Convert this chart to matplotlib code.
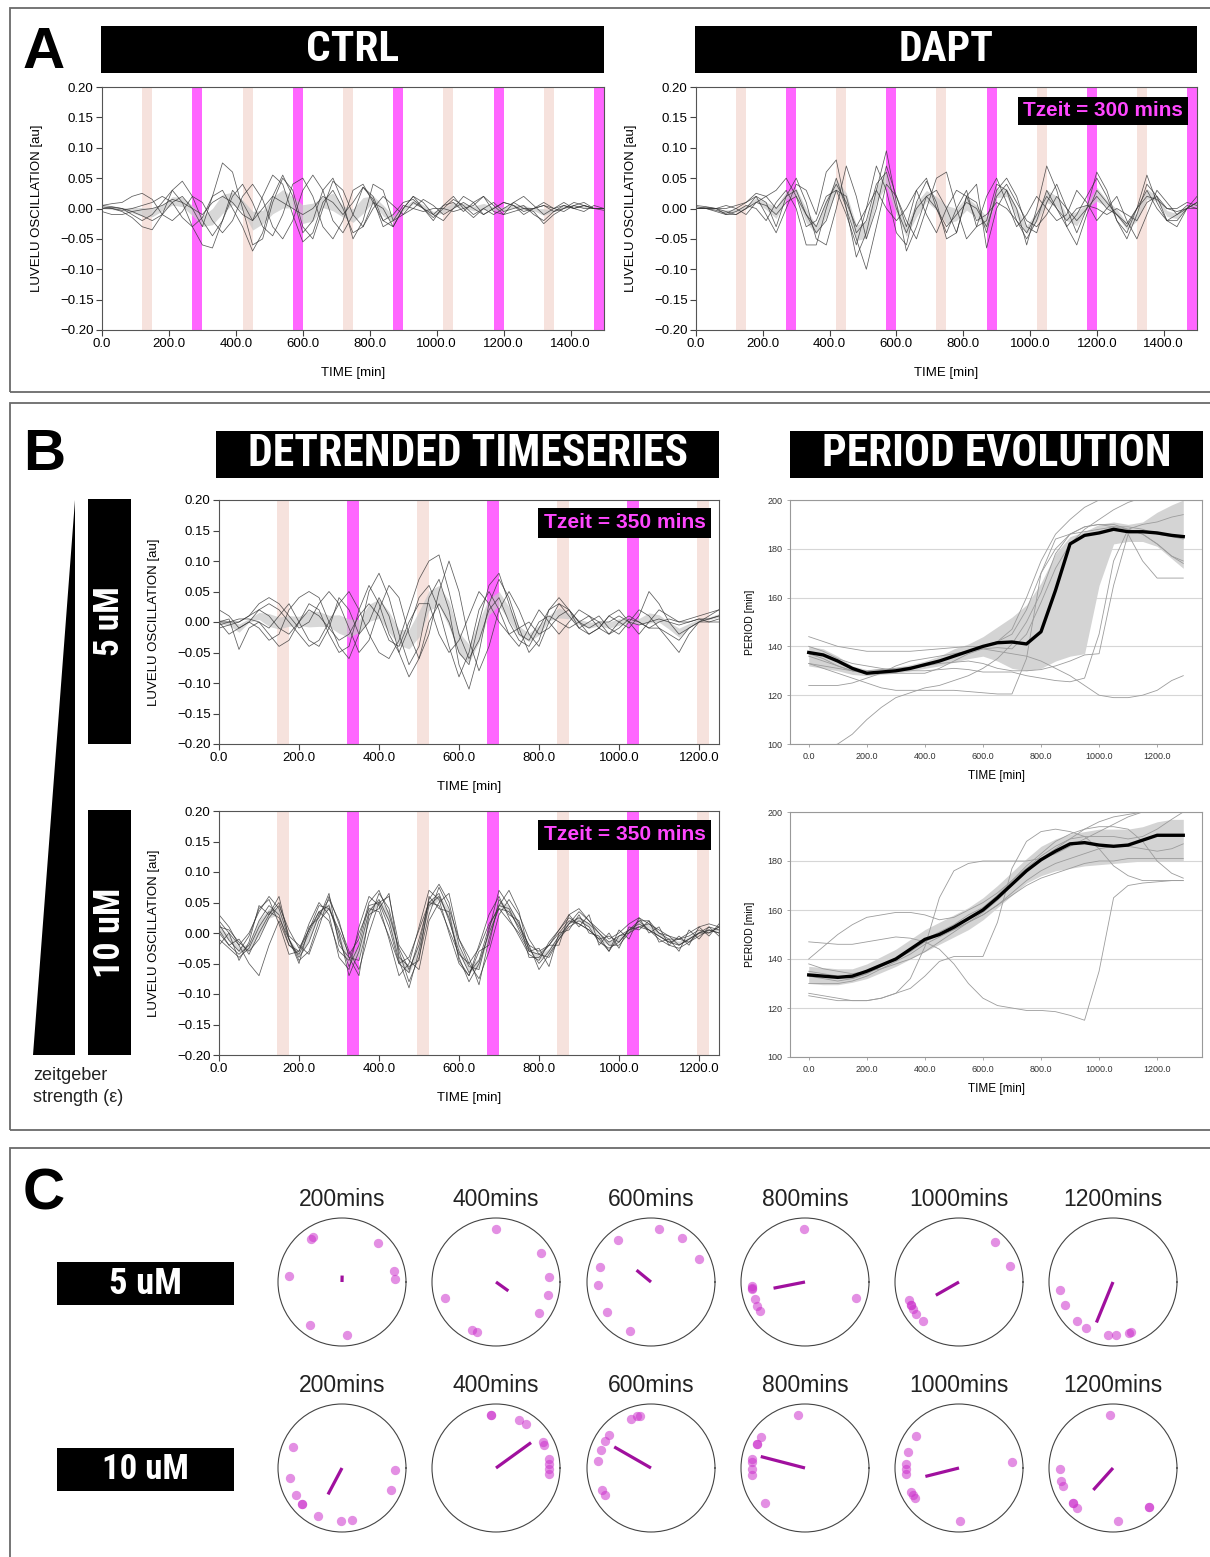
import numpy as np
import matplotlib
matplotlib.use('Agg')
import matplotlib.pyplot as plt
from matplotlib import font_manager
from matplotlib.patches import Rectangle, Polygon
from matplotlib.ticker import FuncFormatter

W, H = 1210, 1557

# ---------------- detrended LuVeLu traces ----------------
t_a = np.arange(0, 1501, 30)      # panel A sampling [min]
t_b = np.arange(0, 1251, 25)      # panel B sampling [min]

ctrl_traces = [
    [0.005, 0.003, 0.0, -0.005, -0.012, -0.02, -0.01, 0.01, 0.02, 0.0,
     -0.03, 0.02, 0.075, 0.06, 0.0, -0.06, -0.05, 0.01, 0.05, 0.03,
     -0.03, -0.05, 0.0, 0.045, 0.03, -0.01, -0.03, 0.0, 0.02, 0.005,
     -0.01, 0.0, 0.015, 0.005, -0.01, 0.0, 0.01, 0.0, -0.01, 0.0,
     0.01, 0.005, -0.005, 0.0, 0.005, -0.005, 0.0, 0.005, 0.0, 0.0,
     0.0],
    [0.003, 0.0, -0.005, -0.015, -0.03, -0.035, -0.01, 0.03, 0.045, 0.02,
     -0.02, -0.045, -0.02, 0.02, 0.04, 0.01, -0.03, -0.045, -0.01, 0.04,
     0.05, 0.02, -0.03, -0.05, -0.02, 0.03, 0.04, 0.01, -0.02, -0.01,
     0.01, 0.015, 0.0, -0.015, 0.0, 0.015, 0.005, -0.01, 0.0, 0.01,
     -0.005, 0.0, 0.005, -0.01, -0.02, -0.005, 0.005, 0.0, 0.005, 0.0,
     -0.003],
    [0.005, 0.008, 0.01, 0.02, 0.025, 0.015, -0.01, -0.02, -0.005, 0.02,
     0.01, -0.02, -0.04, -0.02, 0.02, 0.04, 0.015, -0.03, -0.05, -0.02,
     0.03, 0.055, 0.03, -0.02, -0.04, -0.01, 0.035, 0.02, -0.02, -0.03,
     0.0, 0.02, 0.01, -0.01, -0.02, 0.0, 0.02, 0.01, -0.01, 0.0,
     0.01, 0.005, -0.01, 0.0, 0.01, 0.0, -0.005, 0.005, 0.01, 0.0,
     0.0],
    [0.0, 0.0, -0.003, 0.0, 0.005, 0.01, 0.02, 0.01, -0.015, -0.03,
     -0.015, 0.02, 0.03, 0.0, -0.03, -0.07, -0.04, 0.02, 0.055, 0.02,
     -0.04, -0.02, 0.03, 0.05, 0.01, -0.05, -0.02, 0.04, 0.03, -0.02,
     -0.01, 0.01, 0.0, -0.01, 0.005, 0.01, -0.005, 0.01, 0.02, -0.005,
     -0.01, 0.01, 0.02, 0.005, -0.01, 0.0, 0.01, 0.0, -0.005, 0.005,
     0.0],
    [0.0, 0.002, 0.0, -0.01, -0.02, -0.01, 0.01, 0.03, 0.01, -0.03,
     -0.06, -0.065, -0.02, 0.03, 0.01, -0.02, 0.02, 0.055, 0.04, -0.01,
     -0.055, -0.04, 0.01, 0.03, 0.0, -0.04, -0.03, 0.01, 0.0, -0.03,
     0.0, 0.02, 0.0, -0.02, 0.005, 0.02, 0.0, -0.015, 0.0, -0.01,
     0.0, 0.01, 0.0, -0.005, -0.025, -0.01, 0.0, 0.01, 0.005, 0.0,
     0.0],
    [-0.005, -0.01, -0.01, -0.005, -0.002, 0.0, 0.005, 0.015, 0.01, 0.0,
     -0.01, 0.01, 0.02, 0.01, -0.01, -0.02, 0.0, 0.02, 0.01, 0.0,
     -0.01, 0.0, 0.02, 0.01, -0.01, 0.01, 0.035, 0.015, -0.03, -0.02,
     0.005, 0.0, -0.005, 0.0, 0.0, -0.005, 0.0, 0.005, 0.02, 0.005,
     -0.01, -0.005, 0.0, 0.0, 0.005, 0.0, 0.005, 0.0, 0.005, 0.0,
     0.0],
]

dapt_traces = [
    [0.005, 0.003, 0.0, -0.005, -0.01, 0.0, 0.02, 0.01, -0.03, 0.02,
     0.05, 0.01, -0.05, -0.06, 0.0, 0.07, 0.02, -0.05, 0.0, 0.07,
     0.02, -0.03, 0.03, 0.05, 0.0, -0.04, 0.0, 0.03, -0.03, -0.02,
     0.04, 0.03, -0.02, -0.05, -0.02, 0.03, 0.0, -0.03, -0.01, 0.02,
     0.05, 0.02, -0.02, -0.04, 0.0, 0.03, 0.0, -0.02, -0.01, 0.005,
     0.0],
    [0.0, 0.0, -0.003, -0.008, 0.0, 0.01, 0.02, -0.01, -0.04, 0.0,
     0.04, 0.03, -0.01, 0.06, 0.08, 0.0, -0.08, -0.04, 0.03, 0.095,
     0.01, -0.07, -0.03, 0.02, 0.03, 0.0, -0.04, 0.02, 0.04, -0.065,
     0.0, 0.03, 0.0, -0.06, 0.0, 0.07, 0.03, -0.03, -0.06, -0.01,
     0.03, 0.01, -0.01, -0.03, 0.0, 0.055, 0.01, -0.02, -0.03, 0.0,
     0.02],
    [0.003, 0.0, 0.0, -0.01, -0.005, 0.005, 0.0, -0.02, 0.01, 0.03,
     0.0, -0.06, -0.06, 0.0, 0.05, 0.0, -0.05, -0.1, -0.03, 0.04,
     0.02, -0.02, -0.05, 0.0, 0.05, 0.06, 0.0, -0.05, -0.03, 0.02,
     0.05, 0.01, -0.03, -0.01, 0.02, 0.0, -0.02, -0.01, 0.03, 0.01,
     -0.02, 0.0, 0.02, -0.02, -0.05, -0.01, 0.03, 0.01, -0.01, 0.0,
     0.01],
    [0.0, 0.002, 0.0, 0.0, 0.005, 0.01, 0.025, 0.02, 0.0, 0.02,
     0.03, -0.01, -0.04, -0.02, 0.03, 0.02, -0.04, -0.02, 0.04, 0.06,
     0.0, -0.04, 0.0, 0.02, 0.0, -0.03, -0.01, 0.01, 0.0, -0.03,
     0.02, 0.04, 0.01, -0.02, -0.03, -0.01, 0.02, 0.0, -0.02, 0.0,
     0.02, 0.0, -0.01, -0.025, 0.0, 0.02, 0.015, 0.0, -0.005, 0.0,
     0.0],
    [0.0, 0.0, -0.005, -0.01, -0.01, 0.0, 0.01, 0.005, -0.01, 0.01,
     0.02, -0.01, -0.03, 0.01, 0.04, 0.01, -0.03, 0.0, 0.03, 0.0,
     -0.02, 0.0, 0.03, -0.01, -0.04, 0.0, 0.03, 0.02, -0.02, -0.01,
     0.01, 0.0, -0.02, -0.04, -0.01, 0.02, 0.0, -0.02, 0.0, 0.005,
     0.0, -0.01, 0.0, -0.01, -0.02, 0.01, 0.02, 0.0, 0.0, 0.01,
     0.005],
    [0.0, 0.0, 0.0, 0.005, 0.0, -0.01, 0.01, 0.02, 0.03, 0.05,
     0.02, -0.03, -0.02, 0.02, 0.03, -0.01, -0.06, 0.0, 0.07, 0.03,
     -0.04, -0.06, 0.01, 0.045, 0.01, -0.05, -0.04, 0.02, 0.01, -0.04,
     0.03, 0.05, 0.02, -0.03, -0.04, 0.01, 0.04, 0.0, -0.04, 0.0,
     0.06, 0.03, -0.02, -0.05, -0.01, 0.04, 0.02, -0.02, -0.02, 0.0,
     0.01],
]

uM5_traces = [
    [0.02, 0.01, -0.01, 0.0, 0.02, 0.03, 0.02, 0.0, -0.02, -0.04,
     -0.03, 0.0, 0.03, 0.05, 0.02, -0.02, -0.05, -0.06, -0.03, 0.02,
     0.07, 0.1, 0.11, 0.05, -0.02, -0.06, -0.03, 0.02, 0.04, 0.0,
     -0.03, -0.04, -0.01, 0.02, 0.04, 0.02, -0.01, -0.02, -0.01, 0.01,
     0.0, -0.01, 0.01, 0.05, 0.03, 0.0, -0.02, -0.01, 0.0, 0.01,
     0.02],
    [0.0, -0.02, -0.01, 0.0, -0.01, -0.03, -0.02, 0.02, 0.04, 0.05,
     0.04, 0.0, -0.04, -0.06, -0.02, 0.05, 0.08, 0.04, -0.02, -0.07,
     -0.04, 0.04, 0.07, 0.02, -0.07, -0.11, -0.05, 0.03, 0.07, 0.04,
     -0.01, -0.05, -0.03, 0.02, 0.03, 0.01, -0.01, 0.0, 0.01, -0.01,
     -0.02, 0.0, 0.02, 0.01, -0.01, -0.03, -0.05, -0.02, 0.0, 0.005,
     0.01],
    [-0.01, -0.005, 0.0, 0.01, 0.03, 0.04, 0.03, 0.01, -0.01, 0.0,
     0.03, 0.05, 0.03, -0.01, -0.05, -0.03, 0.02, 0.06, 0.04, -0.02,
     -0.06, -0.02, 0.05, 0.1, 0.05, -0.03, -0.08, -0.04, 0.02, 0.05,
     0.02, -0.02, -0.04, 0.0, 0.03, 0.02, 0.0, -0.02, -0.01, 0.01,
     0.02, 0.0, -0.02, 0.0, 0.02, 0.01, 0.0, 0.0, 0.005, 0.0,
     0.005],
    [0.0, 0.005, -0.045, -0.01, 0.0, -0.01, 0.01, 0.03, 0.0, -0.03,
     -0.04, -0.01, 0.04, 0.02, -0.02, 0.0, 0.04, 0.01, -0.05, -0.09,
     -0.06, 0.0, 0.03, 0.0, -0.05, -0.07, 0.0, 0.06, 0.08, 0.03,
     -0.02, -0.03, 0.0, 0.01, 0.0, -0.01, 0.0, 0.01, 0.0, -0.02,
     -0.01, 0.005, 0.0, -0.01, 0.0, 0.005, 0.0, 0.005, 0.01, 0.015,
     0.02],
    [0.0, 0.0, 0.005, 0.005, 0.0, -0.02, -0.04, -0.03, 0.0, 0.03,
     0.02, -0.02, -0.05, -0.04, 0.02, 0.06, 0.03, -0.02, -0.05, -0.01,
     0.04, 0.06, 0.02, -0.04, -0.09, -0.05, 0.02, 0.05, 0.02, -0.02,
     -0.04, -0.01, 0.02, 0.0, -0.02, 0.0, 0.02, 0.01, -0.01, -0.02,
     0.0, 0.01, 0.0, -0.01, -0.01, -0.02, -0.03, -0.01, 0.0, 0.0,
     0.0],
    [-0.005, 0.0, 0.0, 0.01, 0.02, 0.01, -0.01, -0.02, 0.0, 0.02,
     0.01, -0.01, -0.03, -0.02, 0.01, 0.03, 0.01, -0.03, -0.04, 0.0,
     0.03, 0.03, -0.02, -0.05, -0.03, 0.01, 0.05, 0.03, 0.0, -0.02,
     -0.01, 0.0, -0.02, -0.01, 0.01, 0.02, 0.0, -0.01, 0.0, 0.0,
     0.01, 0.0, -0.005, 0.0, 0.005, 0.0, -0.005, 0.0, 0.005, 0.005,
     0.01],
]

uM10_traces = [
    [0.015, -0.012, -0.03, -0.005, 0.04, 0.055, 0.015, -0.035, -0.03, 0.015,
     0.05, 0.03, -0.04, -0.06, 0.01, 0.06, 0.045, -0.01, -0.07, -0.05,
     0.01, 0.07, 0.055, 0.0, -0.05, -0.07, -0.02, 0.03, 0.06, 0.025,
     -0.005, -0.035, -0.045, -0.015, 0.005, 0.025, 0.015, 0.005, -0.01, -0.005,
     -0.015, 0.005, 0.02, 0.005, -0.005, -0.015, -0.01, -0.005, 0.005, 0.0,
     0.01],
    [0.0, -0.02, -0.035, -0.02, 0.02, 0.045, 0.03, -0.02, -0.035, 0.0,
     0.035, 0.045, -0.01, -0.055, -0.02, 0.045, 0.05, 0.01, -0.05, -0.065,
     -0.01, 0.05, 0.065, 0.02, -0.03, -0.065, -0.045, 0.01, 0.045, 0.04,
     0.005, -0.025, -0.05, -0.03, -0.005, 0.015, 0.025, 0.015, 0.0, -0.015,
     -0.005, 0.0, 0.01, 0.015, 0.005, -0.005, -0.02, -0.01, 0.0, 0.01,
     0.005],
    [0.02, 0.0, -0.02, 0.0, 0.035, 0.06, 0.04, -0.01, -0.04, -0.015,
     0.03, 0.055, 0.02, -0.04, -0.045, 0.02, 0.065, 0.04, -0.03, -0.08,
     -0.04, 0.03, 0.075, 0.04, -0.01, -0.05, -0.075, -0.03, 0.03, 0.055,
     0.03, -0.01, -0.035, -0.04, -0.01, 0.015, 0.035, 0.02, 0.0, -0.02,
     -0.02, 0.0, 0.02, 0.02, 0.0, -0.01, -0.01, -0.015, -0.005, 0.005,
     0.0],
    [-0.01, -0.025, -0.04, -0.025, 0.01, 0.035, 0.025, -0.01, -0.045, -0.03,
     0.02, 0.04, 0.0, -0.07, -0.03, 0.035, 0.055, 0.02, -0.045, -0.09,
     -0.03, 0.045, 0.06, 0.025, -0.04, -0.08, -0.05, 0.0, 0.04, 0.035,
     0.01, -0.02, -0.06, -0.035, -0.01, 0.01, 0.02, 0.01, -0.015, -0.025,
     -0.015, 0.005, 0.01, 0.005, -0.01, -0.02, -0.025, -0.015, 0.0, 0.0,
     0.01],
    [0.01, 0.005, -0.015, -0.03, -0.01, 0.025, 0.045, 0.005, -0.025, 0.005,
     0.045, 0.04, 0.005, -0.035, -0.01, 0.05, 0.07, 0.03, -0.025, -0.06,
     -0.02, 0.055, 0.08, 0.05, -0.02, -0.055, -0.06, 0.005, 0.07, 0.045,
     0.015, -0.02, -0.03, -0.02, 0.005, 0.03, 0.04, 0.02, 0.005, -0.01,
     0.0, 0.015, 0.025, 0.015, 0.0, -0.005, -0.01, 0.0, 0.01, 0.015,
     0.01],
    [0.03, 0.01, -0.02, -0.05, -0.07, -0.02, 0.02, -0.02, -0.03, 0.005,
     0.035, 0.02, -0.03, -0.045, 0.0, 0.04, 0.035, -0.005, -0.05, -0.04,
     0.005, 0.05, 0.045, 0.005, -0.035, -0.05, -0.025, 0.015, 0.04, 0.02,
     0.0, -0.03, -0.035, -0.02, 0.0, 0.02, 0.015, 0.005, -0.01, -0.03,
     -0.005, 0.005, 0.015, 0.005, -0.005, -0.015, -0.02, -0.01, 0.0, 0.005,
     0.0],
    [0.005, -0.02, -0.01, -0.035, 0.0, 0.03, 0.05, -0.005, -0.02, -0.035,
     0.01, 0.06, 0.015, -0.03, -0.06, 0.0, 0.05, 0.06, -0.02, -0.045,
     -0.06, 0.02, 0.05, 0.065, -0.01, -0.04, -0.085, -0.01, 0.045, 0.07,
     0.035, -0.03, -0.025, -0.055, 0.0, 0.005, 0.03, 0.0, -0.005, -0.03,
     0.005, -0.01, 0.025, 0.0, 0.01, -0.02, -0.005, -0.02, 0.01, -0.005,
     0.015],
    [-0.02, 0.0, -0.045, -0.015, 0.045, 0.03, 0.06, -0.01, -0.05, 0.01,
     0.025, 0.065, -0.02, -0.04, -0.07, 0.03, 0.04, 0.065, -0.04, -0.055,
     -0.045, 0.06, 0.04, 0.035, -0.045, -0.07, -0.03, -0.02, 0.055, 0.03,
     0.02, -0.04, -0.04, -0.02, -0.02, 0.03, 0.01, 0.03, -0.02, 0.0,
     -0.025, 0.01, 0.005, 0.02, -0.015, -0.01, -0.03, 0.005, -0.01, 0.01,
     -0.005],
]

# ---------------- period evolution ----------------
t_p = [0, 50, 100, 150, 200, 250, 300, 350, 400, 450, 500, 550, 600, 650,
       700, 750, 800, 850, 900, 950, 1000, 1050, 1100, 1150, 1200, 1250, 1290]

period_5uM_mean = [137.5, 136.5, 134, 131, 129, 129.5, 130, 131, 132.5, 134, 136, 138, 140,
                   141.5, 141.8, 141, 146, 163, 182, 185.5, 186.5, 188, 187, 187, 186.5, 185.5, 185]
period_5uM_lo = [132, 131, 130, 128.5, 128, 128.5, 129, 130, 131, 132, 133.5, 135, 136,
                 134, 131, 130, 131, 134, 136, 137, 165, 182, 183, 183, 181, 176, 172]
period_5uM_hi = [140, 139, 136, 132, 130.5, 131, 131.5, 132.5, 134, 136, 139, 141, 144,
                 148, 152, 157, 166, 178, 185, 187, 190, 191, 190, 191, 195, 198, 200]
period_5uM_traces = [
    [144, 142, 140, 139, 138, 138, 138, 138, 138.5, 139, 139.5, 140, 140, 142,
     147, 160, 175, 186, 192, 197, 200, 203, 205, 206, 207, 208, 208],
    [124, 124, 124, 125, 127, 129, 132, 134, 135, 136, 137, 138, 139, 139.5,
     139, 145, 158, 172, 182, 188, 192, 196, 199, 201, 202, 203, 204],
    [96, 98, 100, 104, 110, 115, 119, 121, 123, 124, 126, 128, 131, 135,
     141, 150, 162, 178, 186, 189, 190, 190, 188, 186, 182, 177, 175],
    [133, 131, 129, 127, 125, 123, 122, 122, 122, 122, 122, 121.5, 121, 120.5,
     120.5, 135, 170, 184, 186, 187, 188, 189, 189, 188, 186, 185, 184],
    [140, 138, 135, 133, 132, 131, 130, 130, 130, 130.5, 131, 130.5, 129.5, 129.5,
     129.5, 128, 127, 126, 125.5, 127, 145, 175, 188, 190, 191, 193, 194],
    [136, 134, 132, 130, 129, 129, 129, 129, 129, 131, 134, 137, 139, 138,
     137, 136, 134, 131, 128, 124, 120, 119, 119, 120, 122, 126, 128],
    [133, 132, 131, 130, 130, 130.5, 131, 131.5, 132, 133, 133.5, 134, 133, 131,
     130, 130, 130.5, 132, 134, 136.5, 137, 165, 186, 175, 168, 168, 168],
    [137, 135, 132, 130, 129, 129, 130, 131, 132, 134, 136, 138, 140, 142,
     145, 155, 170, 180, 186, 189, 190, 189, 188, 186, 182, 177, 174],
]

period_10uM_mean = [133.5, 133, 132.5, 133, 135, 137.5, 140, 144, 148, 150, 153, 156.5, 160,
                    165, 170.5, 176, 180.5, 184, 187, 187.5, 186.5, 186, 186.5, 188.5, 190.5, 190.5, 190.5]
period_10uM_lo = [130, 129.5, 129.5, 130.5, 132, 134.5, 137, 140, 143, 146, 149, 152, 156,
                  161, 166, 171, 174, 176, 177, 178, 178.5, 179, 179.5, 180, 180, 180, 180]
period_10uM_hi = [137, 136.5, 136, 136, 138, 141, 144, 148, 152, 155, 158, 161, 165,
                  170, 175.5, 181, 186, 189, 191, 192, 193, 193, 193, 194, 196, 197, 197]
period_10uM_traces = [
    [125, 124, 123, 123, 123, 124, 126, 132, 145, 165, 176, 179, 180, 180,
     180, 180, 181, 183, 186, 189, 192, 195, 198, 200, 202, 204, 205],
    [147, 146.5, 146, 146, 147, 148, 149, 148.5, 147, 144, 138, 130, 124, 121,
     120, 119, 119, 118.5, 117, 115, 135, 165, 170, 171, 171.5, 172, 172],
    [126, 125, 124, 123, 123, 124, 126, 128, 133, 139, 141, 141, 141, 155,
     177, 188, 192, 193, 192, 190, 185, 178, 174, 172, 172, 172, 172],
    [140, 145, 150, 154, 157, 158, 159, 159, 158, 156, 157, 160, 163, 167,
     172, 177, 182, 186, 189, 190, 190, 190, 189, 190, 193, 197, 200],
    [138, 136, 135, 134, 135, 136, 138, 140, 143, 147, 151, 155, 159, 164,
     170, 176, 181, 185, 189, 193, 196, 198, 199, 200, 201, 202, 203],
    [130, 130, 130, 131, 133, 136, 139, 142, 146, 149, 152, 155, 158, 162,
     166, 170, 173, 175, 177, 179, 180, 180, 181, 181, 181, 181, 181],
    [135, 134, 133, 132, 134, 137, 140, 144, 148, 151, 154, 158, 161, 166,
     172, 178, 183, 188, 191, 193, 194, 194, 193, 188, 180, 175, 173],
    [133, 132, 131, 132, 134, 137, 140, 143, 147, 150, 152, 155, 158, 162,
     167, 172, 176, 179, 181, 183, 185, 186, 186, 185, 184, 185, 187],
]

# ---------------- phase snapshots (degrees) ----------------
snapshot_times = [200, 400, 600, 800, 1000, 1200]
phases_5uM = [
    [123, 126, 47, 173, 12, 3, 233, 275],
    [90, 33, 5, 346, 324, 198, 243, 249],
    [81, 55, 26, 128, 164, 183, 214, 247],
    [91, 184, 186, 188, 199, 207, 213, 343],
    [48, 17, 200, 205, 205, 210, 217, 227],
    [189, 206, 227, 239, 265, 273, 287, 290],
]
phases_10uM = [
    [157, 191, 210, 222, 222, 243, 269, 281, 358, 336],
    [95, 95, 65, 56, 29, 25, 10, 4, 359, 354],
    [112, 105, 102, 142, 150, 160, 172, 204, 210],
    [98, 145, 153, 153, 170, 174, 181, 188, 221],
    [143, 162, 176, 181, 187, 207, 211, 214, 6, 271],
    [93, 181, 194, 200, 221, 221, 228, 275, 313, 313],
]

# ---------------- fonts ----------------
installed = {f.name for f in font_manager.fontManager.ttflist}
HEAD = 'Liberation Sans'
for cand in ['Liberation Sans Narrow', 'Roboto Condensed', 'Noto Sans Condensed',
             'Open Sans Condensed', 'Arial Narrow']:
    if cand in installed:
        HEAD = cand
        break
plt.rcParams['font.family'] = ['Liberation Sans', 'DejaVu Sans']

PULSE = '#ff66ff'
DIM = '#f6e2dd'

fig = plt.figure(figsize=(W / 100, H / 100), dpi=100)
renderer = fig.canvas.get_renderer()


def rect(x0, y0, x1, y1):
    return [x0 / W, 1 - y1 / H, (x1 - x0) / W, (y1 - y0) / H]


def fx(x):
    return x / W


def fy(y):
    return 1 - y / H


def black_box(x0, y0, x1, y1, text, span, color='white', rotation=0, family=None):
    # black label bar; font size is scaled so the text covers `span` pixels
    fig.add_artist(Rectangle((fx(x0), fy(y1)), fx(x1) - fx(x0), fy(y0) - fy(y1),
                             transform=fig.transFigure, facecolor='black',
                             edgecolor='none', zorder=5))
    txt = fig.text(fx((x0 + x1) / 2), fy((y0 + y1) / 2), text, ha='center', va='center',
                   rotation=rotation, color=color, fontsize=20, fontweight='bold',
                   family=family or HEAD, zorder=6)
    ext = txt.get_window_extent(renderer)
    cur = ext.height if rotation else ext.width
    txt.set_fontsize(20 * span / cur)
    return txt


def frame(y0, y1):
    fig.add_artist(Rectangle((fx(10), fy(y1)), fx(1230) - fx(10), fy(y0) - fy(y1),
                             transform=fig.transFigure, fill=False,
                             edgecolor='#6a6a6a', lw=1.3, zorder=1))


def yfmt(v, p):
    v = round(v, 2)
    if abs(v) < 1e-9:
        v = 0.0
    return f'{v:.2f}'.replace('-', '\u2212')


def osc_panel(box, t, traces, xmax, xticks, tzeit, pulse0, dim0):
    ax = fig.add_axes(rect(*box))
    k = 0
    while pulse0 + k * tzeit < xmax:
        ax.axvspan(pulse0 + k * tzeit, pulse0 + k * tzeit + 30, color=PULSE, lw=0, zorder=0)
        k += 1
    k = 0
    while dim0 + k * tzeit < xmax:
        ax.axvspan(dim0 + k * tzeit, dim0 + k * tzeit + 30, color=DIM, lw=0, zorder=0)
        k += 1
    data = np.array(traces)
    mean = data.mean(axis=0)
    sem = data.std(axis=0) / np.sqrt(len(data))
    ax.fill_between(t, mean - sem, mean + sem, color='#c8c8c8', alpha=0.7, lw=0, zorder=1)
    for tr in traces:
        ax.plot(t, tr, color='#333333', lw=0.55, alpha=0.8, zorder=2)
    ax.set_xlim(0, xmax)
    ax.set_ylim(-0.2, 0.2)
    ax.set_xticks(xticks)
    ax.set_yticks(np.arange(-0.2, 0.201, 0.05))
    ax.xaxis.set_major_formatter(FuncFormatter(lambda v, p: f'{v:.1f}'))
    ax.yaxis.set_major_formatter(FuncFormatter(yfmt))
    ax.tick_params(labelsize=9.5, length=4, width=0.8, color='#444444', pad=2)
    for s in ax.spines.values():
        s.set_linewidth(0.8)
        s.set_color('#555555')
    ax.set_xlabel('TIME [min]', fontsize=9.5, labelpad=12)
    ax.set_ylabel('LUVELU OSCILLATION [au]', fontsize=9.5, labelpad=12)
    return ax


def period_panel(box, traces, mean, lo, hi):
    ax = fig.add_axes(rect(*box))
    ax.fill_between(t_p, lo, hi, color='#d4d4d4', lw=0, zorder=1)
    for tr in traces:
        ax.plot(t_p, tr, color='#9c9c9c', lw=0.6, zorder=2)
    ax.plot(t_p, mean, color='black', lw=2.4, zorder=3)
    ax.set_xlim(-64.5, 1354.5)
    ax.set_ylim(100, 200)
    ax.set_xticks(np.arange(0, 1201, 200))
    ax.set_yticks(np.arange(100, 201, 20))
    ax.xaxis.set_major_formatter(FuncFormatter(lambda v, p: f'{v:.1f}'))
    ax.yaxis.grid(True, color='#d6d6d6', lw=0.8)
    ax.set_axisbelow(True)
    ax.tick_params(labelsize=6.5, length=2, width=0.5, color='#888888', labelcolor='#333333')
    for s in ax.spines.values():
        s.set_linewidth(0.8)
        s.set_color('#999999')
    ax.set_xlabel('TIME [min]', fontsize=8.5, labelpad=7)
    ax.set_ylabel('PERIOD [min]', fontsize=7.5, labelpad=9)
    return ax


def phase_circle(cx, cy, angles, title):
    ax = fig.add_axes(rect(cx - 64, cy - 64, cx + 64, cy + 64), projection='polar')
    th = np.deg2rad(angles)
    ax.scatter(th, np.ones(len(th)), s=45, color='#cc33cc', alpha=0.55, lw=0, zorder=3)
    vec = np.mean(np.exp(1j * th))
    ax.plot([np.angle(vec)] * 2, [0, np.abs(vec)], color='#a0109e', lw=2.3,
            solid_capstyle='butt', zorder=4)
    ax.set_rlim(0, 1.2)
    ax.set_xticks([])
    ax.set_yticks([])
    ax.grid(False)
    ax.spines['polar'].set_color('#444444')
    ax.spines['polar'].set_linewidth(0.8)
    fig.text(fx(cx), fy(cy - 82), title, ha='center', va='center', fontsize=16.5, color='#222222')


# ---------------- panel A ----------------
frame(8, 392)
fig.text(fx(23), fy(68), 'A', fontsize=42, fontweight='bold', va='baseline')
black_box(101, 26, 604, 73, 'CTRL', 93)
black_box(695, 26, 1197, 73, 'DAPT', 95)
osc_panel((102, 87, 604, 330), t_a, ctrl_traces, 1500, np.arange(0, 1401, 200), 300, 270, 120)
osc_panel((696, 87, 1197, 330), t_a, dapt_traces, 1500, np.arange(0, 1401, 200), 300, 270, 120)
black_box(1018, 97, 1188, 125, 'Tzeit = 300 mins', 160, color='#ff47ff', family='Liberation Sans')

# ---------------- panel B ----------------
frame(403, 1130)
fig.text(fx(23), fy(470), 'B', fontsize=42, fontweight='bold', va='baseline')
black_box(216, 431, 719, 478, 'DETRENDED TIMESERIES', 441)
black_box(790, 431, 1203, 478, 'PERIOD EVOLUTION', 350)
black_box(88, 499, 131, 744, '5 uM', 70, rotation=90)
black_box(88, 810, 131, 1055, '10 uM', 90, rotation=90)
fig.add_artist(Polygon([(fx(33), fy(1055)), (fx(75), fy(1055)), (fx(75), fy(500))],
                       closed=True, transform=fig.transFigure, facecolor='black',
                       edgecolor='none'))
fig.text(fx(33), fy(1067), 'zeitgeber\nstrength (\u03b5)', fontsize=13, va='top',
         ha='left', linespacing=1.35, color='#222222')

osc_panel((219, 500, 719, 744), t_b, uM5_traces, 1250, np.arange(0, 1201, 200), 350, 320, 145)
osc_panel((219, 811, 719, 1055), t_b, uM10_traces, 1250, np.arange(0, 1201, 200), 350, 320, 145)
black_box(538, 508, 711, 538, 'Tzeit = 350 mins', 162, color='#ff47ff', family='Liberation Sans')
black_box(538, 820, 711, 850, 'Tzeit = 350 mins', 162, color='#ff47ff', family='Liberation Sans')

period_panel((790, 500, 1202, 744), period_5uM_traces, period_5uM_mean, period_5uM_lo, period_5uM_hi)
period_panel((790, 812, 1202, 1057), period_10uM_traces, period_10uM_mean, period_10uM_lo, period_10uM_hi)

# ---------------- panel C ----------------
frame(1148, 1600)
fig.text(fx(23), fy(1210), 'C', fontsize=42, fontweight='bold', va='baseline')
black_box(57, 1262, 234, 1305, '5 uM', 73)
black_box(57, 1448, 234, 1491, '10 uM', 87)

centers_x = [342, 496, 651, 805, 959, 1113]
for cx, tm, ang in zip(centers_x, snapshot_times, phases_5uM):
    phase_circle(cx, 1282, ang, f'{tm}mins')
for cx, tm, ang in zip(centers_x, snapshot_times, phases_10uM):
    phase_circle(cx, 1468, ang, f'{tm}mins')

fig.savefig('out.png', dpi=100)
